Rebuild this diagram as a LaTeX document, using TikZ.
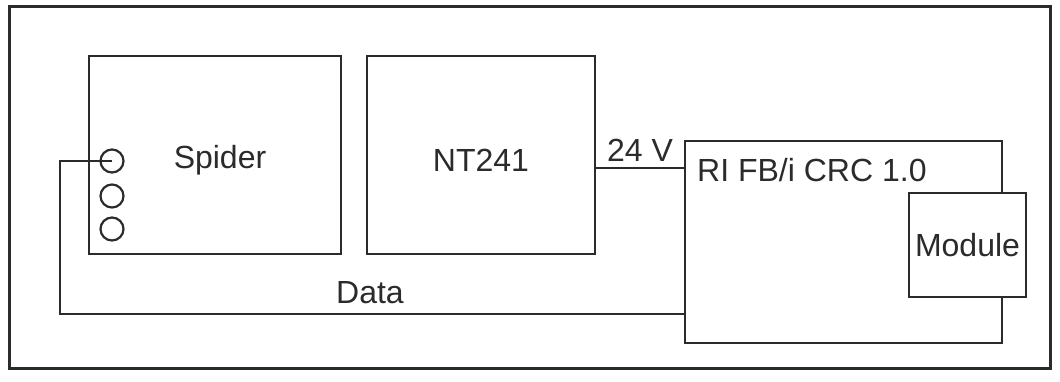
\documentclass[tikz,border=0pt]{standalone}
\usepackage{fontspec}
\setmainfont{Liberation Sans}
\definecolor{ink}{HTML}{2B2B2B}
\begin{document}
\begin{tikzpicture}[x=1pt,y=-1pt,
  ln/.style={draw=ink,line width=2.6pt},
  box/.style={ln,fill=white},
  lbl/.style={font=\fontsize{32}{35}\selectfont,text=ink,inner sep=0pt},
  port/.style={draw=ink,line width=2.2pt,circle,minimum size=23pt,inner sep=0pt}]
\useasboundingbox (0,0) rectangle (1060,381);
\draw[ln,line width=3pt] (9,6) rectangle (1050,368);
\draw[box] (89,56) rectangle (341,254);
\draw[box] (367,56) rectangle (595,254);
\draw[box] (685,141) rectangle (1002,343);
\node[box,minimum width=117pt,minimum height=104pt,inner sep=0pt] (mod) at (967.5,245) {};
\node[lbl] at (mod) {Module};
\coordinate (ntr) at (595,168);
\coordinate (ril) at (685,168);
\draw[ln] (ntr) -- (ril);
\node[port] (p1) at (112,161) {};
\node[port] (p2) at (112,196) {};
\node[port] (p3) at (112,229) {};
\coordinate (rid) at (685,314);
\draw[ln] (p1.center) -- (60,161) -- (60,314) -- (rid);
\node[lbl] at (220,160) {Spider};
\node[lbl] at (481,160) {NT241};
\node[lbl,anchor=west] at (697,170) {RI FB/i CRC 1.0};
\node[lbl] at (640,150) {24 V};
\node[lbl] at (370,293) {Data};
\end{tikzpicture}
\end{document}
